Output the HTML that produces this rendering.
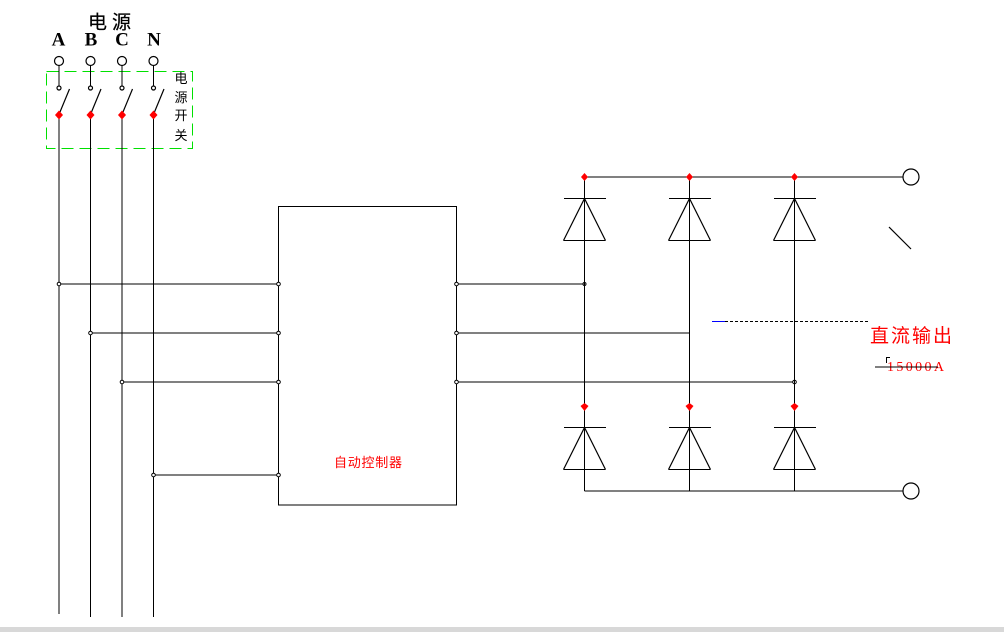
<!DOCTYPE html>
<html>
<head>
<meta charset="utf-8">
<style>
  html, body { margin:0; padding:0; background:#fff; }
  body { width:1004px; height:632px; overflow:hidden; position:relative; }
  svg { position:absolute; left:0; top:0; }
</style>
</head>
<body>
<svg width="1004" height="632" viewBox="0 0 1004 632" xmlns="http://www.w3.org/2000/svg">
  <rect x="0" y="0" width="1004" height="632" fill="#fff"/>
  <rect x="0" y="627" width="1004" height="5" fill="#d8d8d8"/>

  <!-- Top labels -->
  <text x="88" y="28.5" font-family="'Liberation Serif','Noto Sans CJK SC',serif" font-size="19" textLength="43" lengthAdjust="spacing" fill="#000" stroke="#000" stroke-width="0.2">电源</text>
  <g font-family="'Liberation Serif',serif" font-weight="bold" font-size="19" fill="#000" text-anchor="middle">
    <text x="58.5" y="45.5">A</text>
    <text x="91" y="45.5">B</text>
    <text x="122" y="45.5">C</text>
    <text x="154" y="45.5">N</text>
  </g>

  <!-- Terminal circles -->
  <g fill="none" stroke="#000" stroke-width="1.2">
    <circle cx="59" cy="61" r="4.5"/>
    <circle cx="90.5" cy="61" r="4.5"/>
    <circle cx="122" cy="61" r="4.5"/>
    <circle cx="153.5" cy="61" r="4.5"/>
  </g>

  <!-- Green dashed switch box -->
  <rect x="46.5" y="71.5" width="146" height="77" fill="none" stroke="#00e000" stroke-width="1.3" stroke-dasharray="12 6" shape-rendering="crispEdges"/>
  <g font-family="'Liberation Sans','Noto Sans CJK SC',sans-serif" font-size="13" fill="#000" text-anchor="middle">
    <text x="181" y="83">电</text>
    <text x="181" y="102">源</text>
    <text x="181" y="120">开</text>
    <text x="181" y="140">关</text>
  </g>

  <!-- Switch lines -->
  <g stroke="#000" stroke-width="1.3" fill="none" shape-rendering="crispEdges">
    <line x1="59" y1="65.5" x2="59" y2="86"/>
    <line x1="90.5" y1="65.5" x2="90.5" y2="86"/>
    <line x1="122" y1="65.5" x2="122" y2="86"/>
    <line x1="153.5" y1="65.5" x2="153.5" y2="86"/>
    <line x1="59" y1="114" x2="59" y2="614"/>
    <line x1="90.5" y1="114" x2="90.5" y2="617"/>
    <line x1="122" y1="114" x2="122" y2="617"/>
    <line x1="153.5" y1="114" x2="153.5" y2="617"/>
  </g>
  <g stroke="#000" stroke-width="1.2" fill="none">
    <circle cx="59" cy="88" r="2"/>
    <circle cx="90.5" cy="88" r="2"/>
    <circle cx="122" cy="88" r="2"/>
    <circle cx="153.5" cy="88" r="2"/>
    <line x1="60" y1="112" x2="69.5" y2="89"/>
    <line x1="91.5" y1="112" x2="101" y2="89"/>
    <line x1="123" y1="112" x2="132.5" y2="89"/>
    <line x1="154.5" y1="112" x2="164" y2="89"/>
  </g>
  <g fill="#ff0000">
    <polygon points="59,110.5 63,115 59,119.5 55,115"/>
    <polygon points="90.5,110.5 94.5,115 90.5,119.5 86.5,115"/>
    <polygon points="122,110.5 126,115 122,119.5 118,115"/>
    <polygon points="153.5,110.5 157.5,115 153.5,119.5 149.5,115"/>
  </g>

  <!-- Controller box -->
  <rect x="278.5" y="206.5" width="178" height="298.5" fill="none" stroke="#000" stroke-width="1.3" shape-rendering="crispEdges"/>
  <text x="334" y="467" font-family="'Liberation Sans','Noto Sans CJK SC',sans-serif" font-size="13" fill="#ff0000" textLength="68" lengthAdjust="spacing">自动控制器</text>

  <!-- Horizontal lines -->
  <g stroke="#000" stroke-width="1.3" fill="none" shape-rendering="crispEdges">
    <line x1="59" y1="284" x2="278.5" y2="284"/>
    <line x1="90.5" y1="333" x2="278.5" y2="333"/>
    <line x1="122" y1="382" x2="278.5" y2="382"/>
    <line x1="153.5" y1="475" x2="278.5" y2="475"/>
    <line x1="456.5" y1="284" x2="584.5" y2="284"/>
    <line x1="456.5" y1="333" x2="689.5" y2="333"/>
    <line x1="456.5" y1="382" x2="794.5" y2="382"/>
  </g>
  <g fill="#fff" stroke="#000" stroke-width="1">
    <circle cx="59" cy="284" r="1.8"/>
    <circle cx="90.5" cy="333" r="1.8"/>
    <circle cx="122" cy="382" r="1.8"/>
    <circle cx="153.5" cy="475" r="1.8"/>
    <circle cx="278.5" cy="284" r="1.8"/>
    <circle cx="278.5" cy="333" r="1.8"/>
    <circle cx="278.5" cy="382" r="1.8"/>
    <circle cx="278.5" cy="475" r="1.8"/>
    <circle cx="456.5" cy="284" r="1.8"/>
    <circle cx="456.5" cy="333" r="1.8"/>
    <circle cx="456.5" cy="382" r="1.8"/>
    <circle cx="584.5" cy="284" r="1.5"/>
    <circle cx="794.5" cy="382" r="1.8"/>
  </g>

  <!-- Rectifier bridge -->
  <g stroke="#000" stroke-width="1.3" fill="none" shape-rendering="crispEdges">
    <line x1="584.5" y1="177" x2="903" y2="177"/>
    <line x1="584.5" y1="491" x2="903" y2="491"/>
    <line x1="584.5" y1="177" x2="584.5" y2="491"/>
    <line x1="689.5" y1="177" x2="689.5" y2="491"/>
    <line x1="794.5" y1="177" x2="794.5" y2="491"/>
    <line x1="564" y1="198.5" x2="606" y2="198.5"/>
    <line x1="563.5" y1="240.5" x2="605.5" y2="240.5"/>
    <line x1="669" y1="198.5" x2="711" y2="198.5"/>
    <line x1="668.5" y1="240.5" x2="710.5" y2="240.5"/>
    <line x1="774" y1="198.5" x2="816" y2="198.5"/>
    <line x1="773.5" y1="240.5" x2="815.5" y2="240.5"/>
    <line x1="564" y1="427.5" x2="606" y2="427.5"/>
    <line x1="563.5" y1="469.5" x2="605.5" y2="469.5"/>
    <line x1="669" y1="427.5" x2="711" y2="427.5"/>
    <line x1="668.5" y1="469.5" x2="710.5" y2="469.5"/>
    <line x1="774" y1="427.5" x2="816" y2="427.5"/>
    <line x1="773.5" y1="469.5" x2="815.5" y2="469.5"/>
  </g>
  <g stroke="#000" stroke-width="1.2" fill="none">
    <circle cx="911" cy="177" r="8"/>
    <circle cx="911" cy="491" r="8"/>
    <polyline points="563.5,240.5 584.5,198.5 605.5,240.5"/>
    <polyline points="668.5,240.5 689.5,198.5 710.5,240.5"/>
    <polyline points="773.5,240.5 794.5,198.5 815.5,240.5"/>
    <polyline points="563.5,469.5 584.5,427.5 605.5,469.5"/>
    <polyline points="668.5,469.5 689.5,427.5 710.5,469.5"/>
    <polyline points="773.5,469.5 794.5,427.5 815.5,469.5"/>
    <line x1="889" y1="227" x2="911" y2="249"/>
  </g>
  <g fill="#ff0000">
    <polygon points="584.5,173 588,177 584.5,181 581,177"/>
    <polygon points="689.5,173 693,177 689.5,181 686,177"/>
    <polygon points="794.5,173 798,177 794.5,181 791,177"/>
    <polygon points="584.5,403 588.5,406 584.5,411 580.5,406"/>
    <polygon points="689.5,403 693.5,406 689.5,411 685.5,406"/>
    <polygon points="794.5,403 798.5,406 794.5,411 790.5,406"/>
  </g>

  <!-- Dashed leader line -->
  <line x1="712" y1="321.5" x2="725" y2="321.5" stroke="#0000ff" stroke-width="1" shape-rendering="crispEdges"/>
  <line x1="725" y1="321.5" x2="870" y2="321.5" stroke="#000" stroke-width="1" stroke-dasharray="3 2" shape-rendering="crispEdges"/>

  <!-- Output labels -->
  <text x="870" y="342" font-family="'Liberation Sans','Noto Sans CJK SC',sans-serif" font-size="19" fill="#ff0000" textLength="82" lengthAdjust="spacing">直流输出</text>
  <text x="887" y="371" font-family="'Liberation Serif',serif" font-size="14" fill="#ff0000" textLength="57" lengthAdjust="spacing">15000A</text>
  <line x1="875" y1="367" x2="938" y2="367" stroke="#000" stroke-width="1" shape-rendering="crispEdges"/>
  <polyline points="890,357.5 886.5,357.5 886.5,363" fill="none" stroke="#000" stroke-width="1" shape-rendering="crispEdges"/>
</svg>
</body>
</html>
